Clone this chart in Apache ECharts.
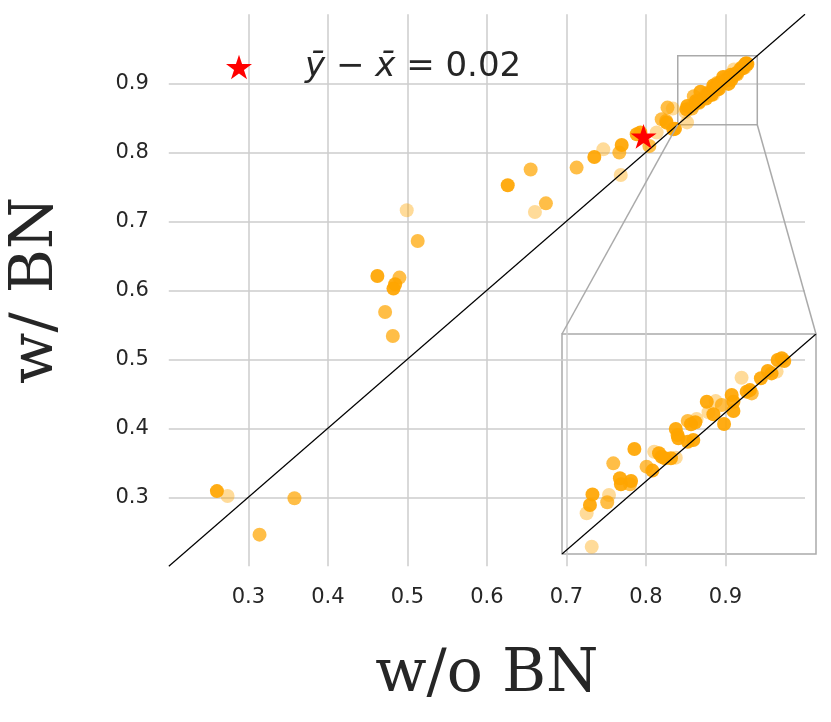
<!DOCTYPE html>
<html>
<head>
<meta charset="utf-8">
<script src="https://cdn.jsdelivr.net/npm/echarts@6/dist/echarts.min.js"></script>
<style>
  html, body { margin: 0; padding: 0; background: #fff; }
  #chart { width: 831px; height: 722px; }
</style>
</head>
<body>
<div id="chart"></div>
<script>
// accuracy without batch norm (x) vs with batch norm (y)
const woBN = [
  0.2605, 0.2739, 0.3141, 0.358, 0.4623, 0.490, 0.4846, 0.4825, 0.472, 0.4817,
  0.4992, 0.513, 0.6262, 0.655, 0.6604, 0.6742, 0.7128, 0.7351, 0.7464, 0.7665,
  0.7695, 0.7683, 0.7884, 0.793, 0.8043, 0.8135, 0.8198, 0.8254, 0.826, 0.8271,
  0.8338, 0.8345, 0.8365,
  0.8517, 0.8497, 0.851, 0.852, 0.8578, 0.8585, 0.8602, 0.8628, 0.8632, 0.8672,
  0.8668, 0.8685, 0.8733, 0.8756, 0.8763, 0.8782, 0.8792, 0.8805, 0.8829, 0.8848,
  0.8848, 0.8855, 0.8858, 0.8895, 0.8908, 0.8917, 0.8925, 0.893, 0.897, 0.8977,
  0.8996, 0.9005, 0.9029, 0.9038, 0.9068, 0.9075, 0.9075, 0.9107, 0.9127, 0.914,
  0.9147, 0.9183, 0.921, 0.9245, 0.9225, 0.9249, 0.9265, 0.9275, 0.8895
];
const wBN = [
  0.309, 0.3019, 0.2459, 0.2986, 0.6207, 0.6184, 0.6087, 0.6025, 0.5686, 0.5338,
  0.716, 0.6715, 0.7522, 0.775, 0.7135, 0.726, 0.7778, 0.7932, 0.8043, 0.7996,
  0.8106, 0.7671, 0.8261, 0.8286, 0.8092, 0.8286, 0.8478, 0.8454, 0.843, 0.8648,
  0.8633, 0.8333, 0.834,
  0.8433, 0.8585, 0.8623, 0.8671, 0.8635, 0.8668, 0.8812, 0.8744, 0.8717, 0.8732,
  0.8717, 0.8877, 0.8797, 0.8779, 0.8865, 0.8858, 0.8842, 0.8835, 0.8835, 0.8838,
  0.8968, 0.8941, 0.8926, 0.9005, 0.899, 0.8918, 0.8999, 0.9014, 0.9092, 0.9044,
  0.9035, 0.9095, 0.9077, 0.8991, 0.9123, 0.9092, 0.905, 0.9201, 0.9138, 0.9145,
  0.913, 0.9199, 0.9232, 0.9229, 0.9221, 0.9282, 0.929, 0.9277, 0.891
];
// 1 = faint, 2 = medium, 3 = strong
const shade = [
  3, 1, 2, 2, 3, 2, 3, 3, 2, 2,
  1, 2, 3, 2, 1, 2, 2, 3, 1, 2,
  3, 1, 3, 3, 2, 1, 2, 2, 3, 2,
  1, 3, 3,
  1, 1, 3, 3, 2, 1, 2, 3, 3, 3,
  2, 3, 2, 3, 1, 3, 3, 3, 3, 1,
  3, 3, 3, 2, 3, 3, 3, 1, 3, 1,
  3, 1, 2, 3, 3, 3, 3, 1, 3, 3,
  2, 3, 3, 1, 3, 3, 3, 3, 3
];
const meanPoint = [0.797, 0.823];
const meanDiffText = '0.02';
const zoomRange = [0.84, 0.94];

const alphaOf = { 1: 0.4, 2: 0.72, 3: 0.92 };
const starPath = 'path://M100 0 L122.45 69.1 L195.11 69.1 L136.33 111.8 L158.78 180.9 L100 138.2 L41.22 180.9 L63.67 111.8 L4.89 69.1 L77.55 69.1 Z';
const textColor = '#262626';
const boxColor = '#aaaaaa';

const points = woBN.map((x, i) => ({
  value: [x, wBN[i]],
  itemStyle: { opacity: alphaOf[shade[i]] }
}));

var myChart = echarts.init(document.getElementById('chart'));
var option = {
  backgroundColor: '#ffffff',
  animation: false,
  grid: [
    { left: 168.8, top: 14.3, width: 636.2, height: 552, outerBoundsMode: 'none' },
    { left: 562, top: 334, width: 254, height: 220, outerBoundsMode: 'none',
      show: true, backgroundColor: 'rgba(0,0,0,0)', borderColor: boxColor, borderWidth: 1.5 }
  ],
  legend: {
    left: 221,
    top: 45,
    itemWidth: 26,
    itemHeight: 26,
    selectedMode: false,
    data: [{ name: 'mean', icon: starPath }],
    formatter: function () {
      return '{g|}{i|ȳ}{t| − }{i|x\u0304}{t| = ' + meanDiffText + '}';
    },
    textStyle: {
      rich: {
        g: { width: 48 },
        i: { fontSize: 34, fontStyle: 'italic', fontFamily: 'DejaVu Sans', color: textColor, lineHeight: 40 },
        t: { fontSize: 34, fontFamily: 'DejaVu Sans', color: textColor, lineHeight: 40 }
      }
    }
  },
  xAxis: [
    {
      gridIndex: 0, type: 'value', min: 0.2, max: 1.0, interval: 0.1,
      name: 'w/o BN', nameLocation: 'middle', nameGap: 79,
      nameTextStyle: { fontFamily: 'DejaVu Serif', fontSize: 60, color: textColor },
      axisLine: { show: false }, axisTick: { show: false },
      axisLabel: {
        showMinLabel: false, showMaxLabel: false, margin: 21,
        fontFamily: 'DejaVu Sans', fontSize: 21, color: textColor,
        formatter: function (v) { return v.toFixed(1); }
      },
      splitLine: { show: true, showMinLine: false, showMaxLine: false,
        lineStyle: { color: '#cccccc', width: 1.5 } }
    },
    { gridIndex: 1, type: 'value', min: zoomRange[0], max: zoomRange[1], show: false }
  ],
  yAxis: [
    {
      gridIndex: 0, type: 'value', min: 0.2, max: 1.0, interval: 0.1,
      name: 'w/ BN', nameLocation: 'middle', nameGap: 102,
      nameTextStyle: { fontFamily: 'DejaVu Serif', fontSize: 60, color: textColor },
      axisLine: { show: false }, axisTick: { show: false },
      axisLabel: {
        showMinLabel: false, showMaxLabel: false, margin: 20,
        fontFamily: 'DejaVu Sans', fontSize: 21, color: textColor,
        formatter: function (v) { return v.toFixed(1); }
      },
      splitLine: { show: true, showMinLine: false, showMaxLine: false,
        lineStyle: { color: '#cccccc', width: 1.5 } }
    },
    { gridIndex: 1, type: 'value', min: zoomRange[0], max: zoomRange[1], show: false }
  ],
  series: [
    {
      type: 'scatter', xAxisIndex: 0, yAxisIndex: 0, z: 2,
      symbolSize: 14, itemStyle: { color: '#FFA500' },
      data: points
    },
    {
      type: 'line', xAxisIndex: 0, yAxisIndex: 0, z: 3,
      symbol: 'none', lineStyle: { color: '#000', width: 1.2 },
      data: [[0.2, 0.2], [1.0, 1.0]],
      markArea: {
        silent: true,
        itemStyle: { color: 'rgba(0,0,0,0)', borderColor: boxColor, borderWidth: 1.5 },
        data: [[{ coord: [zoomRange[0], zoomRange[0]] }, { coord: [zoomRange[1], zoomRange[1]] }]]
      }
    },
    {
      type: 'scatter', xAxisIndex: 1, yAxisIndex: 1, z: 2, clip: true,
      symbolSize: 14, itemStyle: { color: '#FFA500' },
      data: points
    },
    {
      type: 'line', xAxisIndex: 1, yAxisIndex: 1, z: 3,
      symbol: 'none', lineStyle: { color: '#000', width: 1.2 },
      data: [[zoomRange[0], zoomRange[0]], [zoomRange[1], zoomRange[1]]]
    },
    {
      name: 'mean', type: 'scatter', xAxisIndex: 0, yAxisIndex: 0, z: 5,
      symbol: starPath, symbolKeepAspect: true, symbolSize: 26,
      itemStyle: { color: '#ff0000', opacity: 1 },
      data: [meanPoint]
    }
  ]
};
myChart.setOption(option);

// connector lines from zoom box to inset corners
const a = myChart.convertToPixel({ gridIndex: 0 }, [zoomRange[0], zoomRange[0]]);
const b = myChart.convertToPixel({ gridIndex: 0 }, [zoomRange[1], zoomRange[0]]);
const c = myChart.convertToPixel({ gridIndex: 1 }, [zoomRange[0], zoomRange[1]]);
const d = myChart.convertToPixel({ gridIndex: 1 }, [zoomRange[1], zoomRange[1]]);
myChart.setOption({
  graphic: [
    { type: 'line', z: 4, shape: { x1: a[0], y1: a[1], x2: c[0], y2: c[1] },
      style: { stroke: boxColor, lineWidth: 1.5 } },
    { type: 'line', z: 4, shape: { x1: b[0], y1: b[1], x2: d[0], y2: d[1] },
      style: { stroke: boxColor, lineWidth: 1.5 } }
  ]
});
</script>
</body>
</html>
